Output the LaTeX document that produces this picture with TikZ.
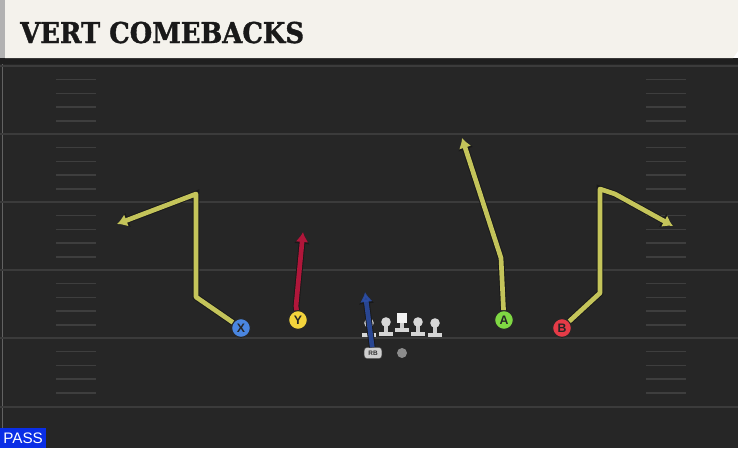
\documentclass[tikz,border=0pt]{standalone}
\usepackage{fontspec}
\setmainfont{Liberation Sans}
\newfontfamily\titlefont[FakeStretch=0.9,FakeBold=1.2]{DejaVu Serif}
\usetikzlibrary{arrows.meta,positioning,shapes.geometric}

\definecolor{fieldbg}{HTML}{262626}
\definecolor{yardgray}{HTML}{3B3B3B}
\definecolor{hashgray}{HTML}{3E3E3E}
\definecolor{bannercream}{HTML}{F4F2EC}
\definecolor{routeyellow}{HTML}{C4C45A}
\definecolor{routered}{HTML}{B0163A}
\definecolor{routeblue}{HTML}{2C4FA8}
\definecolor{xblue}{HTML}{4A86E0}
\definecolor{yyellow}{HTML}{F3D43C}
\definecolor{agreen}{HTML}{7FD843}
\definecolor{bred}{HTML}{E53B47}
\definecolor{passblue}{HTML}{0A2EE6}
\definecolor{linegray}{HTML}{CFCFCF}

\tikzset{
  lineman/.pic={
    \fill[linegray!85] (-6.8,-4.5) rectangle (6.8,0);
    \fill[linegray] (-1.9,-4.5) rectangle (1.9,-11.5);
    \fill[linegray!80] (0,-14) circle (4.8);
  },
  centerman/.pic={
    \fill[linegray!85] (-6.8,-4.5) rectangle (6.8,0);
    \fill[linegray] (-1.9,-4.5) rectangle (1.9,-9);
    \fill[white!95!black] (-5,-9) rectangle (5,-19);
  }
}

\begin{document}
\begin{tikzpicture}[x=0.03cm, y=-0.03cm,
    yardline/.style={draw=yardgray, line width=1.7pt},
    hashmark/.style={draw=hashgray, line width=1.2pt},
    player/.style={circle, draw=black!85, line width=0.9pt, minimum size=16pt, inner sep=0pt,
      font=\bfseries\fontsize{10.5}{10.5}\selectfont, text=black!85},
    route/.style={line width=4pt, line join=round, -{Latex[length=8.5pt,width=11pt]},
      preaction={draw=black!90, line width=5.6pt, -{Latex[length=10pt,width=13.5pt]}}},
]
\useasboundingbox (0,0) rectangle (738,448);

% Field
\fill[fieldbg] (0,58) rectangle (738,448);
\draw[yardgray!80, line width=0.8pt] (2,64) -- (2,448);
\foreach \y in {66,134,202,270,338,407}
  \draw[yardline] (0,\y) -- (738,\y);
\foreach \y in {66,134,202,270,338}
  \foreach \k in {1,...,4} {
    \draw[hashmark] (56,\y+13.7*\k) -- (96,\y+13.7*\k);
    \draw[hashmark] (646,\y+13.7*\k) -- (686,\y+13.7*\k);
  }

% Title banner
\fill[black!88] (0,58) rectangle (738,64);
\fill[black!30] (0,0) rectangle (5,58);
\fill[bannercream] (5,0) -- (738,0) -- (738,51) -- (733,58) -- (5,58) -- cycle;
\node[anchor=base west, inner sep=0pt, text=black!90,
  font=\titlefont\bfseries\fontsize{24.5}{24.5}\selectfont] (title) at (20,43) {VERT COMEBACKS};

% Skill players
\node[player, fill=xblue] (X) at (241,328) {X};
\node[player, fill=yyellow] (Y) at (298,320) {Y};
\node[player, fill=agreen] (A) at (504,320) {A};
\node[player, fill=bred] (B) at (562,328) {B};
\node[rounded corners=2.5pt, fill=linegray, draw=black!70, line width=0.4pt, minimum width=15pt,
  minimum height=9.5pt, inner sep=0pt, font=\bfseries\fontsize{5.5}{5.5}\selectfont, text=black!80] (RB) at (373,353) {RB};
\node[circle, fill=black!45, minimum size=8.5pt, inner sep=0pt] (QB) at (402,353) {};

% Route bends
\coordinate (x1) at (196,297);
\coordinate (x2) at (196,194);
\coordinate (x3) at (117,224);
\coordinate (y1) at (296,306);
\coordinate (y2) at (303,232);
\coordinate (a1) at (501,258);
\coordinate (a2) at (462,138);
\coordinate (b1) at (600,293);
\coordinate (b2) at (600,189);
\coordinate (b3) at (615,194);
\coordinate (b4) at (673,226);
\coordinate (rb1) at (365,292);

% Routes
\draw[route, routeyellow] (X) -- (x1) -- (x2) -- (x3);
\draw[route, routered] (Y) -- (y1) -- (y2);
\draw[route, routeyellow] (A) -- (a1) -- (a2);
\draw[route, routeyellow] (B) -- (b1) -- (b2) -- (b3) -- (b4);

% Offensive line
\pic at (369,337) {lineman};
\pic at (386,336) {lineman};
\pic at (402,332) {centerman};
\pic at (418,336) {lineman};
\pic at (435,337) {lineman};

\draw[route, routeblue, opacity=0.85] (RB) -- (rb1);

% Play type
\node[anchor=south west, fill=passblue, text=white, inner sep=0pt, minimum width=46*0.85pt,
  minimum height=20*0.85pt, font=\fontsize{13}{13}\selectfont] (pass) at (0,448) {PASS};
\end{tikzpicture}
\end{document}
